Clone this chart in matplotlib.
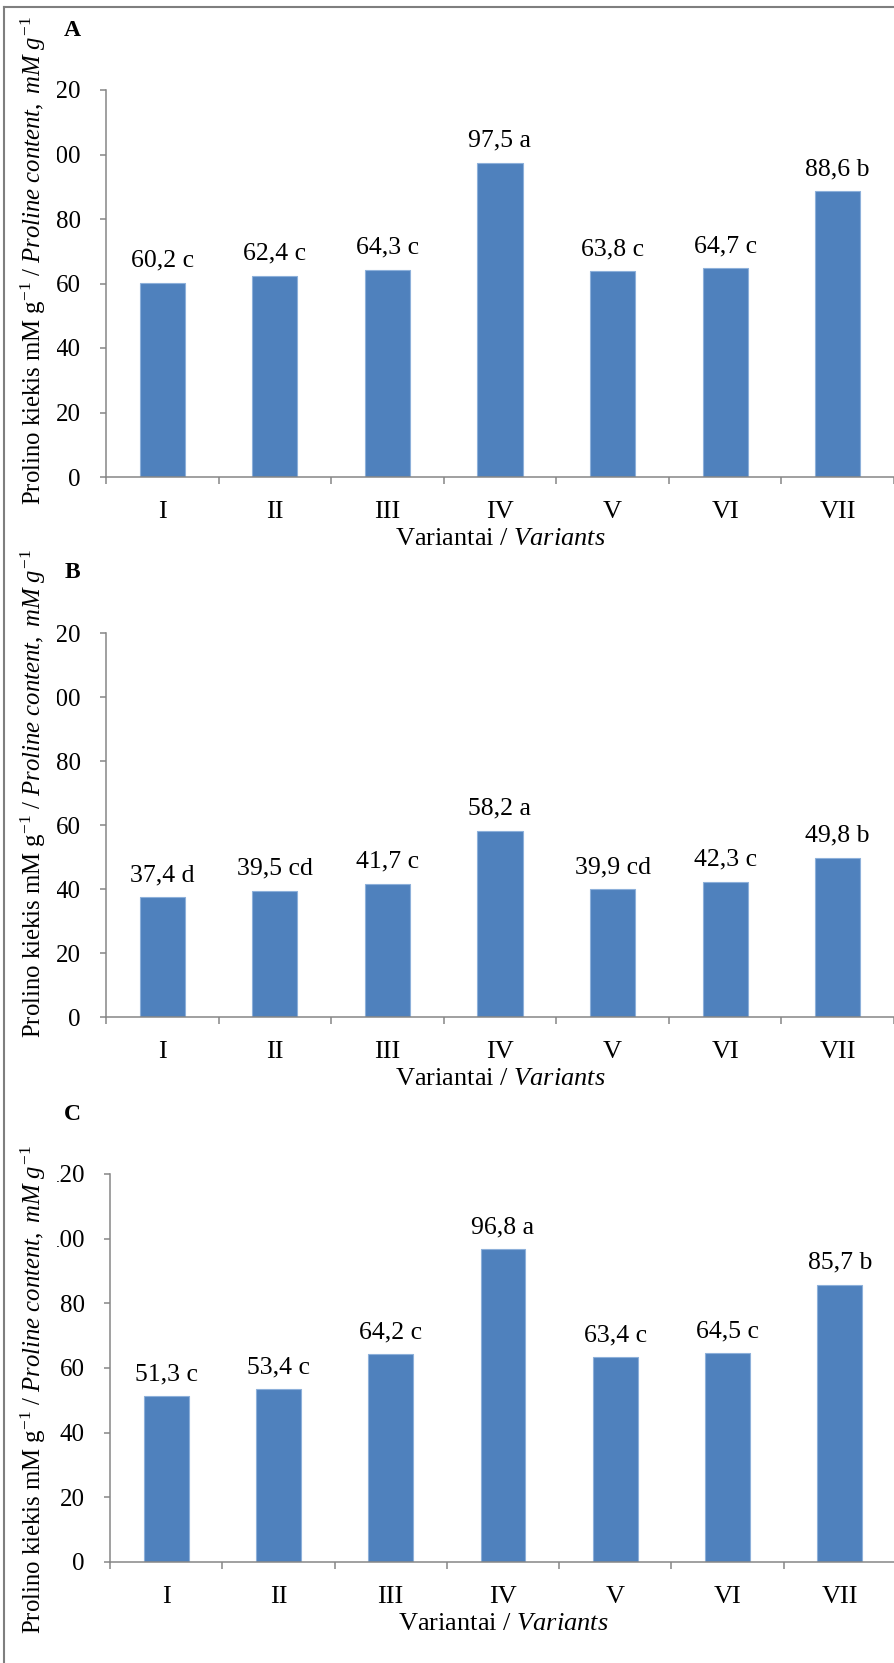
import numpy as np
import matplotlib
matplotlib.use("Agg")
from matplotlib import pyplot as plt
from matplotlib.lines import Line2D

plt.rcParams['font.family'] = ['Liberation Serif', 'DejaVu Serif']
plt.rcParams['mathtext.fontset'] = 'custom'
plt.rcParams['mathtext.rm'] = 'Liberation Serif'
plt.rcParams['mathtext.it'] = 'Liberation Serif:italic'

variants = ['I', 'II', 'III', 'IV', 'V', 'VI', 'VII']
yticks = [0, 20, 40, 60, 80, 100, 120]

vals_a = [60.2, 62.4, 64.3, 97.5, 63.8, 64.7, 88.6]
lets_a = ['c', 'c', 'c', 'a', 'c', 'c', 'b']
vals_b = [37.4, 39.5, 41.7, 58.2, 39.9, 42.3, 49.8]
lets_b = ['d', 'cd', 'c', 'a', 'cd', 'c', 'b']
vals_c = [51.3, 53.4, 64.2, 96.8, 63.4, 64.5, 85.7]
lets_c = ['c', 'c', 'c', 'a', 'c', 'c', 'b']
panels = ['A', 'B', 'C']

W, H = 895, 1663
fig = plt.figure(figsize=(W / 100, H / 100), dpi=100)

bar_color = '#4F81BD'
grey = '#868686'
ylab = r"Prolino kiekis mM g$^{-1}$ / $\mathit{Proline\ content,\ mM\ g^{-1}}$"

# pixel boxes: left, right, top(120), bottom(0), y-label centre
boxes = [(106, 894, 90, 477, 261), (106, 894, 633, 1017, 794), (110, 896, 1174, 1562, 1390)]

for k, (vals, lets, name) in enumerate(zip([vals_a, vals_b, vals_c],
                                           [lets_a, lets_b, lets_c], panels)):
    l, r, t, b, cy = boxes[k]
    ax = fig.add_axes([l / W, 1 - b / H, (r - l) / W, (b - t) / H])
    x = np.arange(len(variants))
    ax.bar(x, vals, width=0.4, color=bar_color, edgecolor='#8DB0DA', linewidth=0.8, zorder=2)
    for xi, v, le in zip(x, vals, lets):
        txt = f"{v:.1f}".replace('.', ',') + ' ' + le
        ax.annotate(txt, (xi, v), xytext=(0, 11.5), textcoords='offset points',
                    ha='center', va='baseline', fontsize=18.5)
    ax.set_xlim(-0.5, len(variants) - 0.5)
    ax.set_ylim(0, 120)
    ax.set_yticks(yticks)
    ax.set_yticklabels([str(v) for v in yticks], fontsize=18)
    ax.set_xticks(np.arange(len(variants) + 1) - 0.5)
    ax.set_xticklabels([])
    ax.set_xticks(x, minor=True)
    ax.set_xticklabels(variants, minor=True, fontsize=19)
    ax.tick_params(axis='x', which='major', length=5, width=1.1, color=grey, direction='out')
    ax.tick_params(axis='x', which='minor', length=0, pad=17)
    ax.tick_params(axis='y', length=4.5, width=1.1, color=grey, pad=13.5)
    for s in ['top', 'right']:
        ax.spines[s].set_visible(False)
    for s in ['left', 'bottom']:
        ax.spines[s].set_color(grey)
        ax.spines[s].set_linewidth(1.1)
    ax.set_xlabel(r"Variantai / $\mathit{Variants}$", fontsize=19, labelpad=4)

    # panel letter
    fig.text(72 / W, 1 - (t - 60) / H, name, fontsize=17, fontweight='bold',
             ha='center', va='center')
    # y label (white box hides the leading digit of the top tick labels, as in the source)
    fig.text(33 / W, 1 - cy / H, ylab, rotation=90, fontsize=17.8,
             ha='center', va='center',
             bbox=dict(facecolor='white', edgecolor='none', pad=7))

# outer frame (left and top lines)
fig.add_artist(Line2D([4 / W, 4 / W], [0, 1 - 7 / H], color='#7f7f7f', lw=1.5,
                      transform=fig.transFigure, zorder=10))
fig.add_artist(Line2D([4 / W, 1], [1 - 7 / H, 1 - 7 / H], color='#7f7f7f', lw=1.5,
                      transform=fig.transFigure, zorder=10))

fig.savefig('out.png', dpi=100)
